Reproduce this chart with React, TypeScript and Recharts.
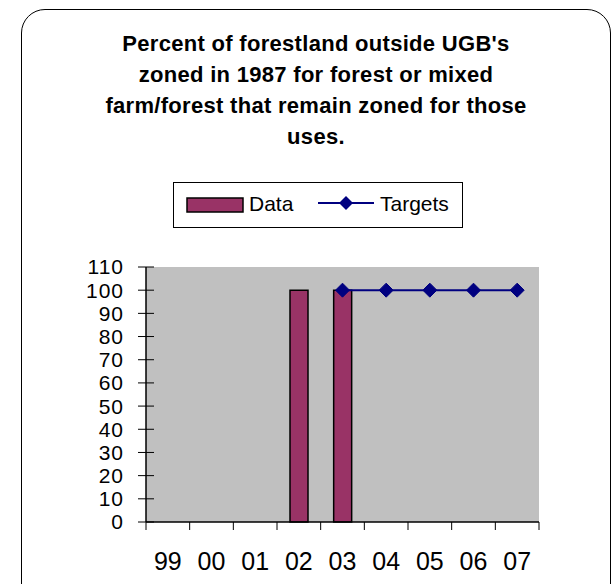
import React from 'react';
import { ComposedChart, Bar, Line, XAxis, YAxis, CartesianGrid, Legend } from 'recharts';

const titleLines = [
  "Percent of forestland outside UGB's",
  'zoned in 1987 for forest or mixed',
  'farm/forest that remain zoned for those',
  'uses.',
];
const years = ['99', '00', '01', '02', '03', '04', '05', '06', '07'];
const dataValues: (number | null)[] = [null, null, null, 100, 100, null, null, null, null];
const targetValues: (number | null)[] = [null, null, null, null, 100, 100, 100, 100, 100];
const yTicks = [0, 10, 20, 30, 40, 50, 60, 70, 80, 90, 100, 110];
const seriesNames = { data: 'Data', targets: 'Targets' };

const BAR_COLOR = '#993366';
const LINE_COLOR = '#000080';
const FONT = '"Liberation Sans", Arial, sans-serif';
const X_MARGIN = 30;
const Y_MARGIN = 22;

const rows = years.map((y, i) => ({ year: y, data: dataValues[i], targets: targetValues[i] }));

const XTick = (props: any) => {
  const { x, y, payload, index, visibleTicksCount } = props;
  const half = payload && typeof payload.offset === 'number' ? payload.offset : 0;
  const axisY = y - X_MARGIN;
  const isLast = visibleTicksCount ? index === visibleTicksCount - 1 : payload.value === years[years.length - 1];
  return (
    <g>
      <line x1={x - half} x2={x - half} y1={axisY} y2={axisY + 8} stroke="#000" strokeWidth={1} />
      {isLast && <line x1={x + half} x2={x + half} y1={axisY} y2={axisY + 8} stroke="#000" strokeWidth={1} />}
      <text x={x} y={y} dy="0.71em" textAnchor="middle" fontSize={25} fill="#000" fontFamily={FONT}>
        {payload.value}
      </text>
    </g>
  );
};

const YTick = (props: any) => {
  const { x, y, payload } = props;
  const axisX = x + Y_MARGIN;
  return (
    <g>
      <line x1={axisX - 8} x2={axisX + 8} y1={y} y2={y} stroke="#000" strokeWidth={1} />
      <text x={x} y={y} dy="0.355em" textAnchor="end" fontSize={21} letterSpacing={1} fill="#000" fontFamily={FONT}>
        {payload.value}
      </text>
    </g>
  );
};

const Diamond = (props: any) => {
  const { cx, cy } = props;
  if (cx == null || cy == null || isNaN(cy)) return <g />;
  const s = 7;
  return (
    <polygon
      points={`${cx},${cy - s} ${cx + s},${cy} ${cx},${cy + s} ${cx - s},${cy}`}
      fill={LINE_COLOR}
      stroke={LINE_COLOR}
    />
  );
};

const LegendContent = () => (
  <svg width={290} height={46} style={{ display: 'block' }}>
    <rect x={0.5} y={0.5} width={289} height={45} fill="#fff" stroke="#000" strokeWidth={1} />
    <rect x={14} y={16} width={56} height={14} fill={BAR_COLOR} stroke="#000" strokeWidth={1.5} />
    <text x={76} y={29} fontSize={21} fontFamily={FONT} fill="#000">{seriesNames.data}</text>
    <line x1={145} x2={201} y1={21} y2={21} stroke={LINE_COLOR} strokeWidth={2} />
    <polygon points="173,14 180,21 173,28 166,21" fill={LINE_COLOR} />
    <text x={207} y={29} fontSize={21} fontFamily={FONT} fill="#000">{seriesNames.targets}</text>
  </svg>
);

export default function App() {
  return (
    <div style={{ position: 'absolute', left: 0, top: 0, width: 613, height: 584, overflow: 'hidden', background: '#fff' }}>
      <div
        style={{
          position: 'absolute', left: 21, top: 9, width: 590, height: 620,
          border: '1.5px solid #000', borderRadius: 24, boxSizing: 'border-box',
        }}
      />
      <div style={{ position: 'absolute', left: 21, top: 28, width: 590, textAlign: 'center', fontFamily: FONT, fontWeight: 'bold', fontSize: 22, letterSpacing: '0.3px', lineHeight: '31px', color: '#000' }}>
        {titleLines.map((t, i) => (<div key={i}>{t}</div>))}
      </div>
      <div style={{ position: 'absolute', left: 0, top: 0 }}>
        <ComposedChart
          width={613}
          height={584}
          data={rows}
          margin={{ top: 267, right: 74, bottom: 12, left: 86 }}
          barSize={18}
        >
          <CartesianGrid fill="#C0C0C0" horizontal={false} vertical={false} />
          <XAxis
            dataKey="year"
            height={50}
            tickSize={0}
            tickMargin={X_MARGIN}
            tickLine={false}
            interval={0}
            axisLine={{ stroke: '#000', strokeWidth: 1.5 }}
            tick={<XTick />}
          />
          <XAxis xAxisId="top" dataKey="year" orientation="top" height={0} tick={false} tickLine={false} axisLine={{ stroke: '#808080', strokeWidth: 1.5 }} />
          <YAxis
            width={60}
            domain={[0, 110]}
            ticks={yTicks}
            interval={0}
            tickSize={0}
            tickMargin={Y_MARGIN}
            tickLine={false}
            axisLine={{ stroke: '#000', strokeWidth: 1.5 }}
            tick={<YTick />}
          />
          <YAxis yAxisId="right" orientation="right" width={0} domain={[0, 110]} tick={false} tickLine={false} axisLine={{ stroke: '#808080', strokeWidth: 1.5 }} />
          <Legend verticalAlign="middle" align="center" layout="horizontal" content={<LegendContent />} wrapperStyle={{ left: 173, top: 182, width: 290, height: 46 }} />
          <Bar dataKey="data" name={seriesNames.data} fill={BAR_COLOR} stroke="#000" strokeWidth={1.5} isAnimationActive={false} />
          <Line dataKey="targets" name={seriesNames.targets} stroke={LINE_COLOR} strokeWidth={2} dot={<Diamond />} activeDot={false} isAnimationActive={false} />
        </ComposedChart>
      </div>
    </div>
  );
}
